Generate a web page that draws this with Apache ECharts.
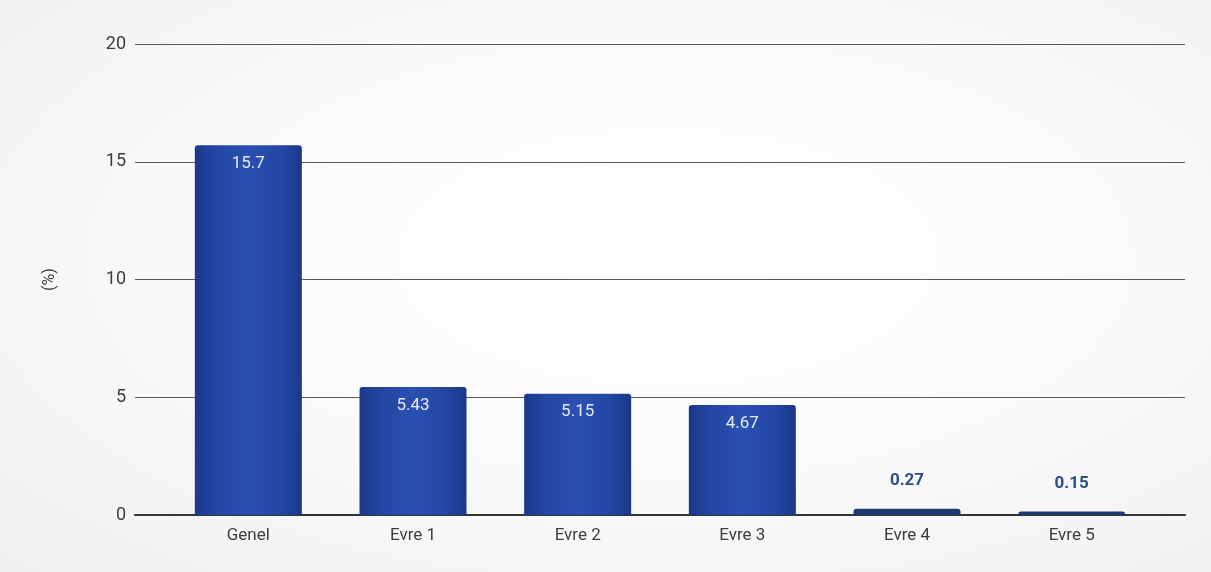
<!DOCTYPE html>
<html>
<head>
<meta charset="utf-8">
<script src="https://cdn.jsdelivr.net/npm/echarts@6/dist/echarts.min.js"></script>
<style>
  html, body { margin: 0; padding: 0; }
  body {
    width: 1211px; height: 572px;
    background: radial-gradient(ellipse at 55% 45%, #ffffff 0%, #fbfbfb 45%, #f0f0f0 100%);
  }
  #chart { width: 1211px; height: 572px; }
</style>
</head>
<body>
<div id="chart"></div>
<script>
// Stage categories and rates (%)
const categories = ['Genel', 'Evre 1', 'Evre 2', 'Evre 3', 'Evre 4', 'Evre 5'];
const rates = [15.7, 5.43, 5.15, 4.67, 0.27, 0.15];
const yTicks = [0, 5, 10, 15, 20];

const yMin = yTicks[0];
const yMax = yTicks[yTicks.length - 1];

const bigBarColor = {
  type: 'linear', x: 0, y: 0, x2: 1, y2: 0,
  colorStops: [
    { offset: 0, color: '#1b388a' },
    { offset: 0.2, color: '#2346a4' },
    { offset: 0.5, color: '#2a50b2' },
    { offset: 0.8, color: '#2346a4' },
    { offset: 1, color: '#1b388a' }
  ]
};
const smallBarColor = '#1f3a72';

const seriesData = rates.map(v => {
  const small = v < 1;
  return {
    value: v,
    itemStyle: { color: small ? smallBarColor : bigBarColor },
    label: small
      ? { position: 'top', distance: 19, color: '#2b4d8a', fontWeight: 'bold', fontSize: 17 }
      : { position: 'insideTop', distance: 10, color: '#e6ecfb', fontSize: 17 }
  };
});

const font = 'Roboto, "Noto Sans", sans-serif';
const chart = echarts.init(document.getElementById('chart'));
chart.setOption({
  backgroundColor: 'transparent',
  textStyle: { fontFamily: font },
  grid: [
    // frame grid: gridlines, y labels and baseline span the full width
    { left: 135, right: 26, top: 44, bottom: 57 },
    // bar grid: categories sit in a slightly narrower band
    { left: 166, right: 57, top: 44, bottom: 57 }
  ],
  xAxis: [
    {
      gridIndex: 0, type: 'value', min: 0, max: 1,
      axisLine: { show: true, onZero: false, lineStyle: { color: '#333', width: 2 } },
      axisTick: { show: false }, axisLabel: { show: false }, splitLine: { show: false }
    },
    {
      gridIndex: 1, type: 'category', data: categories,
      axisLine: { show: false },
      axisTick: { show: false },
      axisLabel: { color: '#3d3d3d', fontSize: 17, margin: 12 }
    }
  ],
  yAxis: [
    {
      gridIndex: 0, type: 'value', min: yMin, max: yMax, interval: 5,
      name: '(%)', nameLocation: 'middle', nameGap: 77,
      nameTextStyle: { color: '#3d3d3d', fontSize: 16 },
      axisLine: { show: false }, axisTick: { show: false },
      axisLabel: { color: '#3d3d3d', fontSize: 18, margin: 9 },
      splitLine: { lineStyle: { color: '#5a5a5a', width: 1 } }
    },
    {
      gridIndex: 1, type: 'value', min: yMin, max: yMax, interval: 5,
      axisLine: { show: false }, axisTick: { show: false },
      axisLabel: { show: false }, splitLine: { show: false }
    }
  ],
  series: [{
    type: 'bar',
    xAxisIndex: 1, yAxisIndex: 1,
    barWidth: 107,
    z: 3,
    data: seriesData,
    itemStyle: { borderRadius: [3, 3, 0, 0] },
    label: { show: true, formatter: p => String(p.value) }
  }]
});
</script>
</body>
</html>
